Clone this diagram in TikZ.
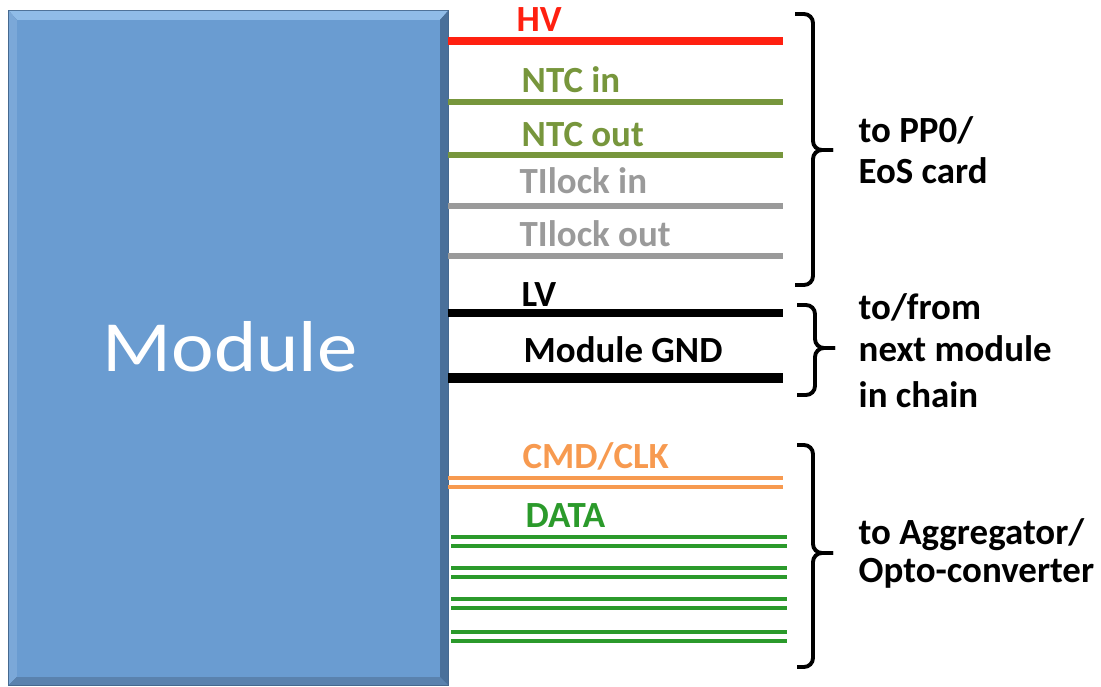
\documentclass[tikz,border=0pt]{standalone}
\usepackage{fontspec}
\setmainfont{Carlito}
\usepackage{xcolor}

\definecolor{hvred}{HTML}{FF2010}
\definecolor{ntcgreen}{HTML}{77963C}
\definecolor{lockgray}{HTML}{9A9A9A}
\definecolor{cmdorange}{HTML}{F79A50}
\definecolor{datagreen}{HTML}{2B9A2B}
\definecolor{modfill}{HTML}{6A9CD1}
\definecolor{modedge}{HTML}{46698F}
\definecolor{modtop}{HTML}{90BCE8}
\definecolor{modleft}{HTML}{7BA8D8}
\definecolor{modright}{HTML}{4A709A}
\definecolor{modbottom}{HTML}{5A82AE}

\tikzset{
  lbl/.style={anchor=base west, inner sep=0pt, font=\fontsize{10.5}{12}\selectfont\bfseries},
  brk/.style={line width=1.1pt, rounded corners=0.9mm},
}

\begin{document}
\begin{tikzpicture}[x=0.1mm, y=-0.1mm]
        \useasboundingbox (0,0) rectangle (1101,687);

        % module block with bevel
        \fill[modedge] (8,10) rectangle (449,686);
        \fill[modtop] (9,11) -- (448,11) -- (440,20) -- (17,20) -- cycle;
        \fill[modleft] (9,11) -- (17,20) -- (17,677) -- (9,685) -- cycle;
        \fill[modright] (448,11) -- (448,685) -- (440,677) -- (440,20) -- cycle;
        \fill[modbottom] (9,685) -- (17,677) -- (440,677) -- (448,685) -- cycle;
        \fill[modfill] (17,20) rectangle (440,677);
        \node[text=white, inner sep=0pt, anchor=base, xscale=1.12, font=\fontsize{20.5}{24}\selectfont] (module) at (230,372) {Module};

        % wires to PP0 / EoS card
        \draw[hvred, line width=2pt] (448,41) -- (783,41);
        \node[lbl, text=hvred] (hv) at (516,32) {HV};
        \draw[ntcgreen, line width=1.6pt] (448,102) -- (783,102);
        \node[lbl, text=ntcgreen] (ntcin) at (521,93) {NTC in};
        \draw[ntcgreen, line width=1.6pt] (448,155) -- (783,155);
        \node[lbl, text=ntcgreen] (ntcout) at (521,147) {NTC out};
        \draw[lockgray, line width=1.6pt] (448,206) -- (783,206);
        \node[lbl, text=lockgray] (lockin) at (519,194) {TIlock in};
        \draw[lockgray, line width=1.6pt] (448,256) -- (783,256);
        \node[lbl, text=lockgray] (lockout) at (519,247) {TIlock out};

        % power chain
        \draw[black, line width=2.2pt] (448,313) -- (783,313);
        \node[lbl] (lv) at (521,307) {LV};
        \draw[black, line width=3pt] (448,378) -- (783,378);
        \node[lbl] (gnd) at (523,363) {Module GND};

        % readout
        \draw[cmdorange, line width=1pt] (448,478) -- (783,478) (448,487) -- (783,487);
        \node[lbl, text=cmdorange] (cmd) at (522,469) {CMD/CLK};
        \foreach \y in {537,568,599,632}
            \draw[datagreen, line width=1.2pt] (451,\y) -- (787,\y) (451,\y+9) -- (787,\y+9);
        \node[lbl, text=datagreen] (data) at (525,528) {DATA};

        % brackets
        \draw[brk] (795,14) -| (813,150) -- (833,150);
        \draw[brk] (833,150) -- (813,150) |- (795,285);
        \draw[brk] (797,305) -| (815,348) -- (835,348);
        \draw[brk] (835,348) -- (815,348) |- (797,395);
        \draw[brk] (797,445) -| (813,553) -- (833,553);
        \draw[brk] (833,553) -- (813,553) |- (797,667);

        \node[lbl] (pp0a) at (858,143) {to PP0/};
        \node[lbl] (pp0b) at (858,184) {EoS card};
        \node[lbl] (chaina) at (858,320) {to/from};
        \node[lbl] (chainb) at (858,362) {next module};
        \node[lbl] (chainc) at (858,408) {in chain};
        \node[lbl] (aggra) at (858,545) {to Aggregator/};
        \node[lbl] (aggrb) at (858,583) {Opto-converter};
\end{tikzpicture}
\end{document}
